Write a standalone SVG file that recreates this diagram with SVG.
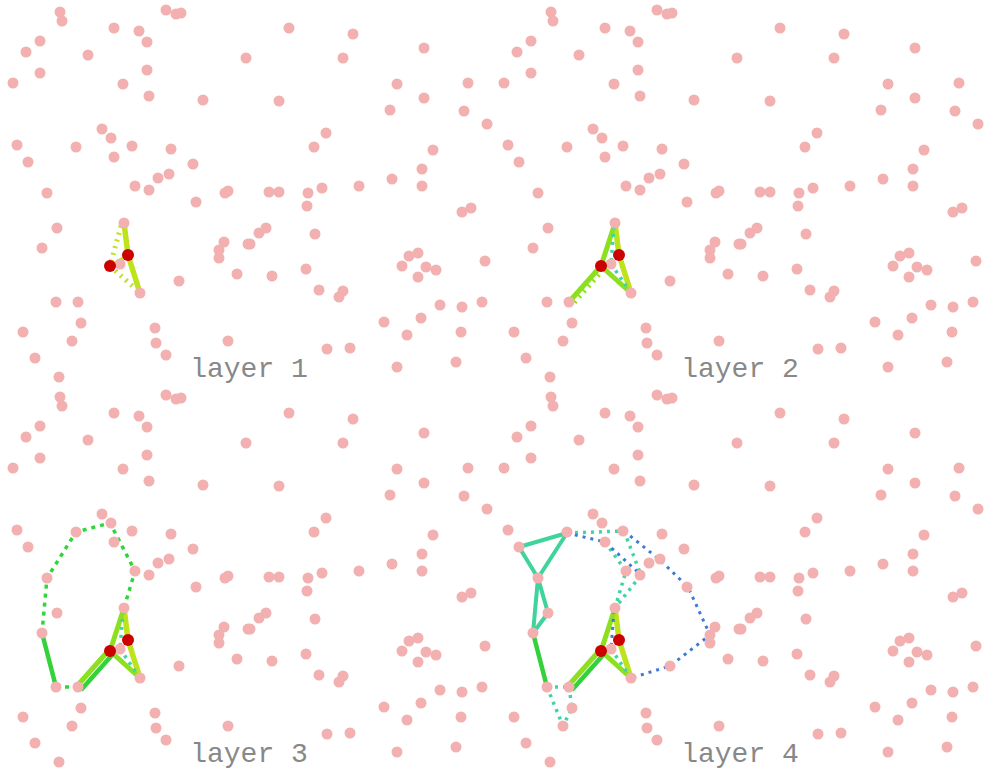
<svg xmlns="http://www.w3.org/2000/svg" xmlns:xlink="http://www.w3.org/1999/xlink" width="987" height="770" viewBox="0 0 987 770">
<style>
.pt{fill:#f2b0b0}
.red{fill:#cc0000}
.ln{fill:none;stroke-linecap:butt;stroke-linejoin:round}
.y{stroke:#bde31b;stroke-width:5.5}
.yt{stroke:#bde31b;stroke-width:3}
.g2{stroke:#8ce01f;stroke-width:5}
.g3{stroke:#33d13a;stroke-width:4.5}
.tl{stroke:#3fd49c;stroke-width:4}
.dy{stroke:#bde31b;stroke-width:5;stroke-dasharray:2 5}
.dg2{stroke:#8ce01f;stroke-width:9;stroke-dasharray:2 5}
.dt{stroke:#3fd4a8;stroke-width:3.5;stroke-dasharray:3 5}
.db{stroke:#3c7ad6;stroke-width:3;stroke-dasharray:3 5}
.dg3{stroke:#2fd63a;stroke-width:3.5;stroke-dasharray:4 5}
.lbl{font-family:"Liberation Mono","Courier New",monospace;font-size:28px;fill:#888888;text-anchor:middle}
</style>
<defs>
<g id="pts" class="pt">
<circle cx="60" cy="12" r="5.5"/><circle cx="62" cy="21" r="5.5"/><circle cx="166" cy="10" r="5.5"/><circle cx="176" cy="14" r="5.5"/><circle cx="181" cy="13" r="5.5"/><circle cx="114" cy="28" r="5.5"/><circle cx="139" cy="31" r="5.5"/><circle cx="147" cy="42" r="5.5"/><circle cx="40" cy="41" r="5.5"/><circle cx="26" cy="52" r="5.5"/><circle cx="88" cy="55" r="5.5"/><circle cx="40" cy="73" r="5.5"/><circle cx="13" cy="83" r="5.5"/><circle cx="147" cy="70" r="5.5"/><circle cx="123" cy="84" r="5.5"/><circle cx="149" cy="96" r="5.5"/><circle cx="203" cy="100" r="5.5"/><circle cx="246" cy="58" r="5.5"/><circle cx="289" cy="28" r="5.5"/><circle cx="353" cy="34" r="5.5"/><circle cx="424" cy="48" r="5.5"/><circle cx="343" cy="58" r="5.5"/><circle cx="397" cy="84" r="5.5"/><circle cx="468" cy="83" r="5.5"/><circle cx="424" cy="98" r="5.5"/><circle cx="390" cy="110" r="5.5"/><circle cx="464" cy="111" r="5.5"/><circle cx="487" cy="124" r="5.5"/><circle cx="279" cy="101" r="5.5"/><circle cx="326" cy="133" r="5.5"/><circle cx="314" cy="147" r="5.5"/><circle cx="433" cy="150" r="5.5"/><circle cx="422" cy="169" r="5.5"/><circle cx="392" cy="179" r="5.5"/><circle cx="422" cy="186" r="5.5"/><circle cx="359" cy="186" r="5.5"/><circle cx="322" cy="188" r="5.5"/><circle cx="308" cy="193" r="5.5"/><circle cx="269" cy="192" r="5.5"/><circle cx="279" cy="192" r="5.5"/><circle cx="228" cy="191" r="5.5"/><circle cx="225" cy="193" r="5.5"/><circle cx="102" cy="129" r="5.5"/><circle cx="111" cy="138" r="5.5"/><circle cx="132" cy="146" r="5.5"/><circle cx="171" cy="149" r="5.5"/><circle cx="17" cy="145" r="5.5"/><circle cx="76" cy="147" r="5.5"/><circle cx="28" cy="162" r="5.5"/><circle cx="114" cy="157" r="5.5"/><circle cx="193" cy="164" r="5.5"/><circle cx="169" cy="174" r="5.5"/><circle cx="158" cy="178" r="5.5"/><circle cx="135" cy="186" r="5.5"/><circle cx="149" cy="190" r="5.5"/><circle cx="47" cy="193" r="5.5"/>
<circle cx="196" cy="202" r="5.5"/><circle cx="124" cy="223" r="5.5"/><circle cx="57" cy="228" r="5.5"/><circle cx="42" cy="248" r="5.5"/><circle cx="224" cy="242" r="5.5"/><circle cx="219" cy="250" r="5.5"/><circle cx="219" cy="258" r="5.5"/><circle cx="248" cy="244" r="5.5"/><circle cx="120" cy="264" r="5.5"/><circle cx="140" cy="293" r="5.5"/><circle cx="179" cy="281" r="5.5"/><circle cx="237" cy="274" r="5.5"/><circle cx="56" cy="302" r="5.5"/><circle cx="78" cy="302" r="5.5"/><circle cx="81" cy="323" r="5.5"/><circle cx="23" cy="332" r="5.5"/><circle cx="72" cy="341" r="5.5"/><circle cx="155" cy="328" r="5.5"/><circle cx="156" cy="343" r="5.5"/><circle cx="166" cy="355" r="5.5"/><circle cx="228" cy="341" r="5.5"/><circle cx="35" cy="358" r="5.5"/><circle cx="59" cy="377" r="5.5"/>
<circle cx="307" cy="206" r="5.5"/><circle cx="462" cy="212" r="5.5"/><circle cx="471" cy="208" r="5.5"/><circle cx="266" cy="228" r="5.5"/><circle cx="259" cy="233" r="5.5"/><circle cx="250" cy="244" r="5.5"/><circle cx="315" cy="234" r="5.5"/><circle cx="272" cy="276" r="5.5"/><circle cx="306" cy="269" r="5.5"/><circle cx="319" cy="290" r="5.5"/><circle cx="343" cy="291" r="5.5"/><circle cx="339" cy="297" r="5.5"/><circle cx="409" cy="256" r="5.5"/><circle cx="418" cy="253" r="5.5"/><circle cx="402" cy="266" r="5.5"/><circle cx="426" cy="267" r="5.5"/><circle cx="436" cy="270" r="5.5"/><circle cx="418" cy="277" r="5.5"/><circle cx="485" cy="261" r="5.5"/><circle cx="440" cy="305" r="5.5"/><circle cx="462" cy="307" r="5.5"/><circle cx="482" cy="302" r="5.5"/><circle cx="421" cy="318" r="5.5"/><circle cx="384" cy="322" r="5.5"/><circle cx="407" cy="335" r="5.5"/><circle cx="461" cy="332" r="5.5"/><circle cx="327" cy="349" r="5.5"/><circle cx="350" cy="348" r="5.5"/><circle cx="397" cy="367" r="5.5"/><circle cx="456" cy="362" r="5.5"/>
</g>
<g id="reds" class="red"><circle cx="128" cy="255" r="6"/><circle cx="110" cy="266" r="6"/></g>
</defs>

<g id="layer1">
<g id="connectors1" class="ln">
<polyline class="y" points="124,223 128,255 140,293"/>
<line class="yt" x1="110" y1="266" x2="128" y2="255"/>
<line class="dy" x1="121" y1="226" x2="110" y2="266"/>
<line class="dy" x1="110" y1="266" x2="138" y2="291"/>
</g>
<use href="#pts"/>
<use href="#reds"/>
<text class="lbl" x="249" y="377">layer 1</text>
</g>

<g id="layer2" transform="translate(491,0)">
<g id="connectors2" class="ln">
<polyline class="y" points="124,223 128,255 140,293"/>
<line class="g2" x1="124" y1="223" x2="110" y2="266"/>
<line class="g2" x1="110" y1="266" x2="140" y2="293"/>
<line class="g2" x1="110" y1="266" x2="78" y2="302"/>
<line class="dg2" x1="111" y1="268" x2="80" y2="303"/>
<line class="dt" x1="123" y1="226" x2="120" y2="264"/>
<line class="dt" x1="120" y1="264" x2="138" y2="290"/>
</g>
<use href="#pts"/>
<use href="#reds"/>
<text class="lbl" x="249" y="377">layer 2</text>
</g>

<g id="layer3" transform="translate(0,385)">
<g id="connectors3" class="ln">
<polyline class="y" points="124,223 128,255 140,293"/>
<line class="g2" x1="124" y1="223" x2="110" y2="266"/>
<line class="g2" x1="110" y1="266" x2="140" y2="293"/>
<line class="g3" x1="113" y1="269" x2="81" y2="305"/>
<line class="g2" x1="109" y1="265" x2="77" y2="301"/>
<line class="dt" x1="123" y1="226" x2="120" y2="264"/>
<line class="dt" x1="120" y1="264" x2="138" y2="290"/>
<line class="g3" x1="42" y1="248" x2="56" y2="302"/>
<polyline class="dg3" points="124,223 135,186 110,138 76,147 47,193 42,248"/>
<line class="dg3" x1="56" y1="302" x2="78" y2="302"/>
</g>
<use href="#pts"/>
<use href="#reds"/>
<text class="lbl" x="249" y="377">layer 3</text>
</g>

<g id="layer4" transform="translate(491,385)">
<g id="connectors4" class="ln">
<polyline class="y" points="124,223 128,255 140,293"/>
<line class="g2" x1="124" y1="223" x2="110" y2="266"/>
<line class="g2" x1="110" y1="266" x2="140" y2="293"/>
<line class="g3" x1="113" y1="269" x2="81" y2="305"/>
<line class="g2" x1="109" y1="265" x2="77" y2="301"/>
<line class="db" x1="123" y1="226" x2="120" y2="264"/>
<line class="dt" x1="120" y1="264" x2="138" y2="290"/>
<line class="g3" x1="42" y1="248" x2="56" y2="302"/>
<polygon class="tl" points="28,162 76,148 47,193"/>
<polygon class="tl" points="47,193 57,228 42,248"/>
<line class="dt" x1="56" y1="302" x2="78" y2="302"/>
<line class="dt" x1="56" y1="302" x2="72" y2="341"/>
<polyline class="dt" points="78,302 81,323 72,341"/>
<line class="dt" x1="76" y1="148" x2="133" y2="146"/>
<polyline class="dt" points="133,146 150,190 124,223"/>
<polyline class="dt" points="114,157 135,186 124,223"/>
<polyline class="db" points="76,148 114,157 150,190"/>
<polyline class="db" points="133,146 169,175 197,202 219,250 179,281 140,293"/>
</g>
<use href="#pts"/>
<use href="#reds"/>
<text class="lbl" x="249" y="377">layer 4</text>
</g>
</svg>
